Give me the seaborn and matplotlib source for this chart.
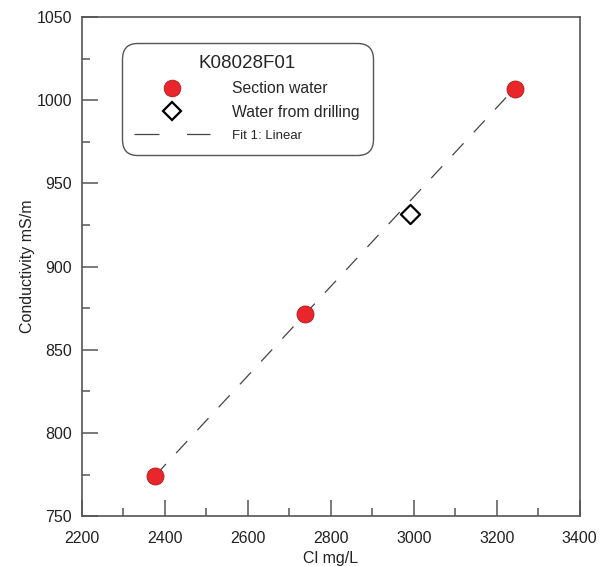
import pandas as pd
import matplotlib.pyplot as plt
import seaborn as sns
from matplotlib.lines import Line2D
from matplotlib.ticker import MultipleLocator

sns.set_theme(style="white")
plt.rcParams['font.family'] = ['Liberation Sans', 'DejaVu Sans']

# Data
section_cl = [2376, 2737, 3243]
section_cond = [774, 871.5, 1007]
drill_cl = [2990]
drill_cond = [931.5]

x_ticks = [2200, 2400, 2600, 2800, 3000, 3200, 3400]
y_ticks = [750, 800, 850, 900, 950, 1000, 1050]
legend_title = "K08028F01"
labels = ["Section water", "Water from drilling", "Fit 1: Linear"]

df_sec = pd.DataFrame({'Cl': section_cl, 'Cond': section_cond})
df_drl = pd.DataFrame({'Cl': drill_cl, 'Cond': drill_cond})

fig = plt.figure(figsize=(6.02, 5.66), dpi=100)
ax = fig.add_axes([0.136, 0.088, 0.827, 0.882])

spine_col = '#555555'
text_col = '#222222'
dash = (13, 12)

# Linear fit through section water
sns.regplot(data=df_sec, x='Cl', y='Cond', ax=ax, scatter=False, ci=None,
            truncate=True,
            line_kws=dict(color='#444444', lw=0.9, dashes=dash, zorder=2))

sns.scatterplot(data=df_sec, x='Cl', y='Cond', ax=ax, marker='o', s=150,
                color='#e8262b', edgecolor='#b01a1e', linewidth=0.6, zorder=3)
sns.scatterplot(data=df_drl, x='Cl', y='Cond', ax=ax, marker='D', s=95,
                facecolor='white', edgecolor='black', linewidth=1.6, zorder=3)

ax.set_xlim(x_ticks[0], x_ticks[-1])
ax.set_ylim(y_ticks[0], y_ticks[-1])
ax.set_xticks(x_ticks)
ax.set_yticks(y_ticks)
ax.xaxis.set_minor_locator(MultipleLocator(100))
ax.yaxis.set_minor_locator(MultipleLocator(25))
ax.tick_params(axis='both', which='major', direction='in', length=11.5, width=1.1,
               color=spine_col, labelsize=11.5, labelcolor=text_col)
ax.tick_params(axis='x', which='major', pad=11)
ax.tick_params(axis='y', which='major', pad=7)
ax.tick_params(axis='both', which='minor', direction='in', length=5.5, width=1.1,
               color=spine_col)
ax.tick_params(top=False, right=False, which='both')
ax.tick_params(axis='both', which='both', bottom=True, left=True)

for sp in ax.spines.values():
    sp.set_color(spine_col)
    sp.set_linewidth(1.2)

ax.set_xlabel("Cl mg/L", fontsize=11.5, color=text_col, labelpad=3)
ax.set_ylabel("Conductivity mS/m", fontsize=11.5, color=text_col, labelpad=1)

handles = [
    Line2D([], [], ls='none', marker='o', markersize=12, markerfacecolor='#e8262b',
           markeredgecolor='#b01a1e', markeredgewidth=0.6),
    Line2D([], [], ls='none', marker='D', markersize=9, markerfacecolor='white',
           markeredgecolor='black', markeredgewidth=1.6),
    Line2D([], [], color='#444444', lw=0.9, dashes=(20, 22)),
]
leg = ax.legend(handles, labels, title=legend_title, loc='upper left',
                bbox_to_anchor=(0.080, 0.948), fontsize=11.3, title_fontsize=13.5,
                handlelength=4.8, handletextpad=1.45, labelspacing=0.55,
                borderpad=0.8, frameon=True, fancybox=True, borderaxespad=0)
leg.get_texts()[2].set_fontsize(9.5)
frame = leg.get_frame()
frame.set_edgecolor('#555555')
frame.set_linewidth(1.0)
frame.set_facecolor('white')
frame.set_alpha(1)
frame.set_boxstyle('round,pad=0,rounding_size=1.0')

fig.savefig('out.png', dpi=100)
